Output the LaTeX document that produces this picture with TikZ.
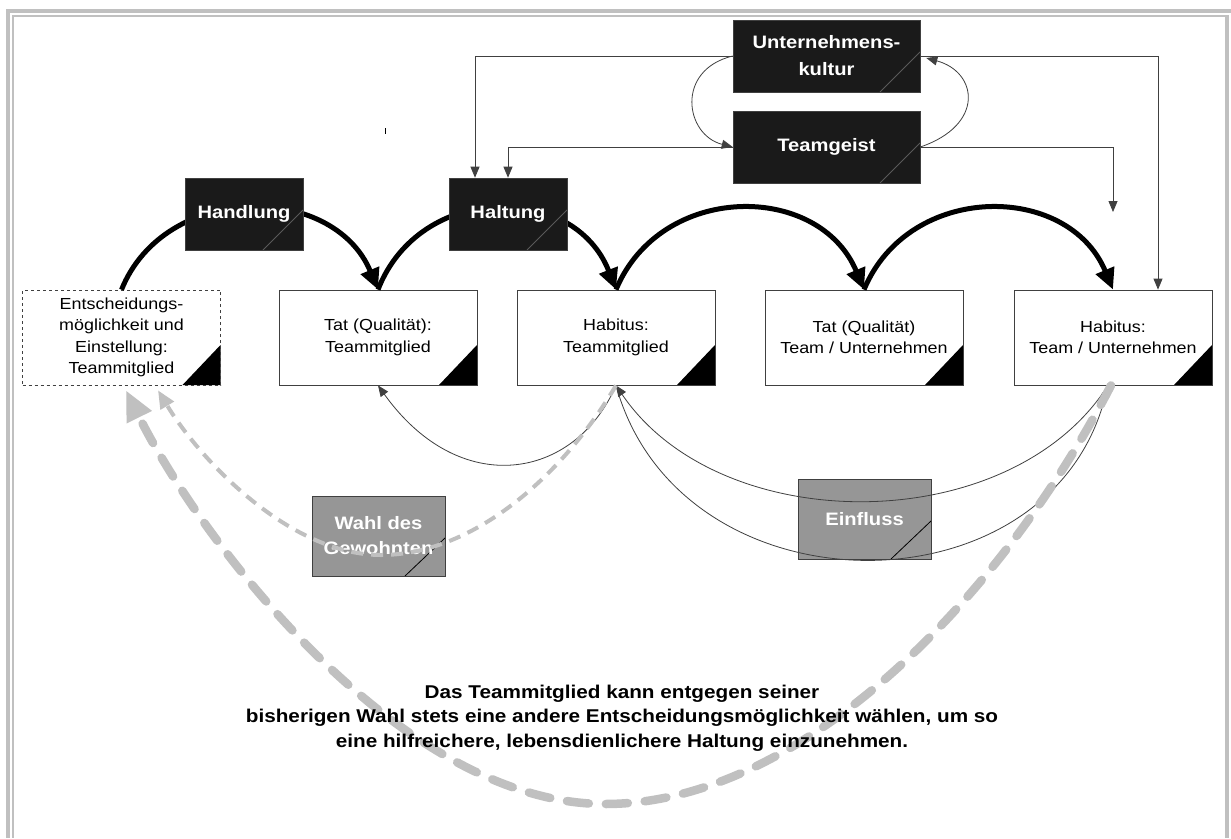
\documentclass[tikz,border=0pt]{standalone}
\usepackage{fontspec}
\setmainfont{Liberation Sans}[FakeStretch=1.12]
\usetikzlibrary{arrows.meta}
\definecolor{framegray}{HTML}{C0C0C0}
\definecolor{boxblack}{HTML}{1A1A1A}
\definecolor{linegray}{HTML}{404040}
\definecolor{midgray}{HTML}{969696}
\definecolor{dashgray}{HTML}{C0C0C0}
\definecolor{diaggray}{HTML}{5A5A5A}
\begin{document}
\begin{tikzpicture}[x=1pt,y=-1pt,
  diagline/.style={path picture={\draw[diaggray,line width=0.8pt] ([xshift=-40pt]path picture bounding box.south east) -- ([yshift=40pt]path picture bounding box.south east);}},
  darkdiag/.style={path picture={\draw[black,line width=0.8pt] ([xshift=-40pt]path picture bounding box.south east) -- ([yshift=38pt]path picture bounding box.south east);}},
  tricorner/.style={path picture={\fill[black] ([xshift=-38pt]path picture bounding box.south east) -- (path picture bounding box.south east) -- ([yshift=40pt]path picture bounding box.south east) -- cycle;}},
  blackbox/.style={fill=boxblack, draw=linegray, line width=0.6pt, text=white, font=\fontsize{18}{27}\selectfont\bfseries, align=center, inner sep=0pt, minimum height=72pt, diagline},
  whitebox/.style={fill=white, draw=linegray, line width=0.8pt, font=\fontsize{16}{21.5}\selectfont, align=center, inner sep=0pt, minimum width=198pt, minimum height=95pt, tricorner},
  graybox/.style={fill=midgray, draw=linegray, line width=0.8pt, text=white, font=\fontsize{18}{25}\selectfont\bfseries, align=center, inner sep=0pt, minimum width=133pt, minimum height=80pt, darkdiag},
  thickarc/.style={line width=5pt, -{Triangle[length=21pt,width=19pt]}},
  thinline/.style={linegray, line width=0.8pt},
  thinarrow/.style={thinline, -{Triangle[length=11pt,width=9pt]}},
  meddash/.style={dashgray, line width=4pt, dash pattern=on 12pt off 8pt, -{Triangle[length=18pt,width=15pt]}},
  bigdash/.style={dashgray, line width=8.5pt, line cap=round, dash pattern=on 22pt off 17pt, -{Triangle[length=30pt,width=26pt]}}
]
\useasboundingbox (0,0) rectangle (1231,838);
\fill[white] (0,0) rectangle (1231,838);
% frame
\fill[framegray] (6,9) rectangle (1231,13);
\fill[framegray] (6,9) rectangle (10,838);
\fill[framegray] (12,15) rectangle (1225,17);
\fill[framegray] (12,15) rectangle (14,838);
\fill[framegray] (1225,15) rectangle (1229,838);
% stray tick
\draw[line width=0.8pt] (385,128) -- (385,134);

% bottom row boxes
\node[whitebox, dashed, line width=0.6pt] (ent) at (121.5,337.5) {Entscheidungs-\\möglichkeit und\\Einstellung:\\Teammitglied};
\node[whitebox] (tat1) at (378,337.5) {Tat (Qualität):\\Teammitglied};
\node[whitebox] (hab1) at (616,337.5) {Habitus:\\Teammitglied};
\node[whitebox] (tat2) at (864,337.5) {Tat (Qualität)\\Team / Unternehmen};
\node[whitebox] (hab2) at (1113,337.5) {Habitus:\\Team / Unternehmen};

% thick arcs
\draw[thickarc] (ent.north) .. controls (165,182) and (333,182) .. (tat1.north);
\draw[thickarc] (tat1.north) .. controls (420,182) and (574,182) .. (hab1.north);
\draw[thickarc] (hab1.north) .. controls (661,182) and (819,182) .. (tat2.north);
\draw[thickarc] (tat2.north) .. controls (909,182) and (1068,182) .. (hab2.north);

% black boxes
\node[blackbox, minimum width=118pt] (handlung) at (244,214) {Handlung};
\node[blackbox, minimum width=118pt] (haltung) at (508,214) {Haltung};
\node[blackbox, minimum width=187pt] (uk) at (826.5,56) {Unternehmens-\\kultur};
\node[blackbox, minimum width=187pt] (tg) at (826.5,147) {Teamgeist};

% top connectors
\coordinate (tgend) at (1113,212);
\draw[thinarrow] (uk.west) -| ([xshift=-33pt]haltung.north);
\draw[thinarrow] (tg.west) -| (haltung.north);
\draw[thinarrow] (uk.east) -| ([xshift=45pt]hab2.north);
\draw[thinarrow] (tg.east) -| (tgend);
\draw[thinarrow] (uk.west) .. controls (675,70) and (685,135) .. (tg.west);
\draw[thinarrow] (tg.east) .. controls (985,125) and (978,72) .. ([xshift=6pt,yshift=-2pt]uk.east);

% gray boxes
\node[graybox] (wahl) at (378.5,536) {Wahl des\\Gewohnten};
\node[graybox] (einfluss) at (864.5,519) {Einfluss};

% thin curved connectors
\draw[thinarrow] (hab1.south) .. controls (575,480) and (460,500) .. (tat1.south);
\draw[thinarrow] ([xshift=-5pt]hab2.south) .. controls (1010,539) and (720,539) .. (hab1.south);
\draw[thinarrow] (hab1.south) .. controls (680,617) and (1050,617) .. ([xshift=-5pt]hab2.south);

% gray dashed return arrows
\draw[meddash] (hab1.south) .. controls (560,480) and (470,555) .. (381,555) .. controls (290,555) and (200,460) .. ([xshift=36.5pt,yshift=-5pt]ent.south);
\draw[bigdash] ([xshift=-2pt]hab2.south) .. controls (1000,600) and (800,804) .. (605,804) .. controls (400,804) and (200,540) .. ([xshift=4.5pt,yshift=-5pt]ent.south);

% note (on top of the dashes)
\node[font=\fontsize{18.5}{24.5}\selectfont\bfseries, align=center] (note) at (622,718) {Das Teammitglied kann entgegen seiner\\bisherigen Wahl stets eine andere Entscheidungsmöglichkeit wählen, um so\\eine hilfreichere, lebensdienlichere Haltung einzunehmen.};
\end{tikzpicture}
\end{document}
